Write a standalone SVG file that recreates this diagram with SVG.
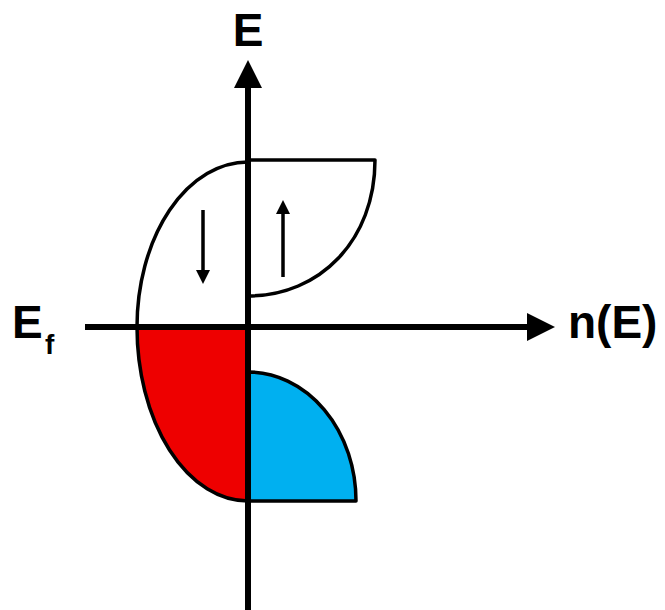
<svg xmlns="http://www.w3.org/2000/svg" width="665" height="610" viewBox="0 0 665 610">
<style>
.lbl{font-family:"Liberation Sans",Arial,sans-serif;font-weight:bold;fill:#000}
.band{stroke:#000;stroke-width:3.5;stroke-linejoin:round}
.axis{stroke:#000;stroke-width:6;fill:none}
.spin{stroke:#000;stroke-width:3.5;fill:none}
</style>
<defs>
<marker id="bigHead" markerWidth="28" markerHeight="28" viewBox="0 0 28 28" refX="0" refY="14" orient="auto" markerUnits="userSpaceOnUse">
<path d="M0,0 L28,14 L0,28 Z" fill="#000"/>
</marker>
<marker id="smallHead" markerWidth="14" markerHeight="14" viewBox="0 0 14 14" refX="0" refY="7" orient="auto" markerUnits="userSpaceOnUse">
<path d="M0,0 L14,7 L0,14 Z" fill="#000"/>
</marker>
</defs>
<rect width="665" height="610" fill="#fff"/>
<g id="down-empty">
<path class="band" d="M248,162 A111,165 0 0 0 137,327 L248,327 Z" fill="#fff"/>
</g>
<g id="down-filled">
<path class="band" d="M137,327 A111,174 0 0 0 248,501 L248,327 Z" fill="#ee0000"/>
</g>
<g id="up-empty">
<path class="band" d="M248,160 L375,160 C375,240 320,296 248,296 Z" fill="#fff"/>
</g>
<g id="up-filled">
<path class="band" d="M248,372 A108,129 0 0 1 356,501 L248,501 Z" fill="#00b0f0"/>
</g>
<g id="connectors">
<line class="axis" x1="248" y1="610" x2="248" y2="88" marker-end="url(#bigHead)"/>
<line class="axis" x1="85" y1="327" x2="527" y2="327" marker-end="url(#bigHead)"/>
<line class="spin" x1="203" y1="210" x2="203" y2="270" marker-end="url(#smallHead)"/>
<line class="spin" x1="283" y1="277" x2="283" y2="214" marker-end="url(#smallHead)"/>
</g>
<g id="labels">
<text class="lbl" x="248" y="46" font-size="46" text-anchor="middle">E</text>
<text class="lbl" x="12" y="338" font-size="46">E</text>
<text class="lbl" x="45" y="354" font-size="28">f</text>
<text class="lbl" x="568" y="338" font-size="46">n(E)</text>
</g>
</svg>
